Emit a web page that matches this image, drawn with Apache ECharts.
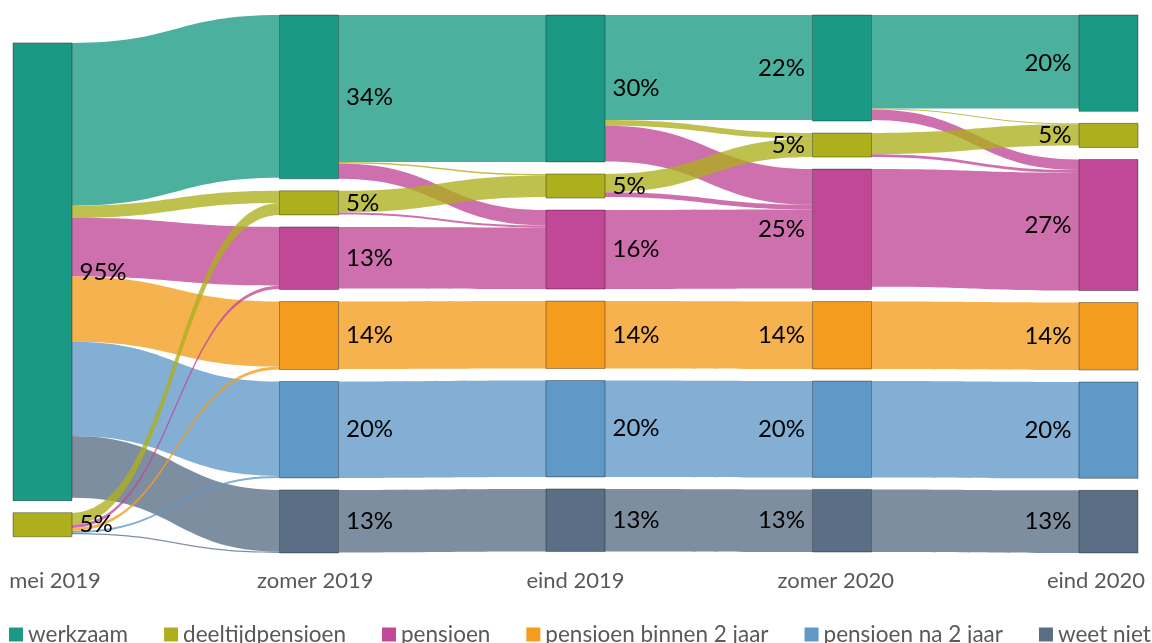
<!DOCTYPE html>
<html>
<head>
<meta charset="utf-8">
<script src="https://cdn.jsdelivr.net/npm/echarts@6/dist/echarts.min.js"></script>
<style>
html,body{margin:0;padding:0;background:#fff;}
#chart{width:1152px;height:643px;}
</style>
</head>
<body>
<div id="chart"></div>
<script>
// ---- data ----
const columns = ['mei 2019', 'zomer 2019', 'eind 2019', 'zomer 2020', 'eind 2020'];
const statuses = ['werkzaam', 'deeltijdpensioen', 'pensioen', 'pensioen binnen 2 jaar', 'pensioen na 2 jaar', 'weet niet'];
const statusColors = ['#1a9a84', '#adb01c', '#c04896', '#f39c1e', '#5f99c7', '#5a6e86'];

// node shares (%) per column, in order of statuses (null = not present)
const shareMei2019   = [95, 5, null, null, null, null];
const shareZomer2019 = [34, 5, 13, 14, 20, 13];
const shareEind2019  = [30, 5, 16, 14, 20, 13];
const shareZomer2020 = [22, 5, 25, 14, 20, 13];
const shareEind2020  = [20, 5, 27, 14, 20, 13];

// flows [from status, to status, % of respondents]
const flowsMei2019ToZomer2019 = [
  ['werkzaam', 'werkzaam', 33.8],
  ['werkzaam', 'deeltijdpensioen', 2.5],
  ['werkzaam', 'pensioen', 12.2],
  ['werkzaam', 'pensioen binnen 2 jaar', 13.5],
  ['werkzaam', 'pensioen na 2 jaar', 19.6],
  ['werkzaam', 'weet niet', 12.8],
  ['deeltijdpensioen', 'deeltijdpensioen', 2.5],
  ['deeltijdpensioen', 'pensioen', 0.7],
  ['deeltijdpensioen', 'pensioen binnen 2 jaar', 0.6],
  ['deeltijdpensioen', 'pensioen na 2 jaar', 0.4],
  ['deeltijdpensioen', 'weet niet', 0.3]
];
const flowsZomer2019ToEind2019 = [
  ['werkzaam', 'werkzaam', 30.5],
  ['werkzaam', 'deeltijdpensioen', 0.3],
  ['werkzaam', 'pensioen', 3.2],
  ['deeltijdpensioen', 'deeltijdpensioen', 4.5],
  ['deeltijdpensioen', 'pensioen', 0.4],
  ['pensioen', 'pensioen', 12.8],
  ['pensioen binnen 2 jaar', 'pensioen binnen 2 jaar', 14],
  ['pensioen na 2 jaar', 'pensioen na 2 jaar', 20],
  ['weet niet', 'weet niet', 13]
];
const flowsEind2019ToZomer2020 = [
  ['werkzaam', 'werkzaam', 21.8],
  ['werkzaam', 'deeltijdpensioen', 1.2],
  ['werkzaam', 'pensioen', 7.4],
  ['deeltijdpensioen', 'deeltijdpensioen', 3.8],
  ['deeltijdpensioen', 'pensioen', 1.0],
  ['pensioen', 'pensioen', 16.4],
  ['pensioen binnen 2 jaar', 'pensioen binnen 2 jaar', 14],
  ['pensioen na 2 jaar', 'pensioen na 2 jaar', 20],
  ['weet niet', 'weet niet', 13]
];
const flowsZomer2020ToEind2020 = [
  ['werkzaam', 'werkzaam', 19.4],
  ['werkzaam', 'deeltijdpensioen', 0.2],
  ['werkzaam', 'pensioen', 2.2],
  ['deeltijdpensioen', 'deeltijdpensioen', 4.4],
  ['deeltijdpensioen', 'pensioen', 0.6],
  ['pensioen', 'pensioen', 24.4],
  ['pensioen binnen 2 jaar', 'pensioen binnen 2 jaar', 14],
  ['pensioen na 2 jaar', 'pensioen na 2 jaar', 20],
  ['weet niet', 'weet niet', 13]
];

// ---- build options ----
const shares = [shareMei2019, shareZomer2019, shareEind2019, shareZomer2020, shareEind2020];
const flowSets = [flowsMei2019ToZomer2019, flowsZomer2019ToEind2019, flowsEind2019ToZomer2020, flowsZomer2020ToEind2020];
const nodeId = (status, col) => status + ' | ' + columns[col];

// layout-only: an invisible, unlabeled spacer pushes the first column down (as in the original layout)
const FIRST_COLUMN_TOP_SPACER = 3.3;

const nodes = [{
  name: '__spacer__',
  value: FIRST_COLUMN_TOP_SPACER,
  depth: 0,
  itemStyle: { color: 'rgba(0,0,0,0)', borderWidth: 0 },
  label: { show: false },
  silent: true
}];
shares.forEach((arr, col) => {
  arr.forEach((v, si) => {
    if (v == null) return;
    nodes.push({
      name: nodeId(statuses[si], col),
      value: v,
      depth: col,
      itemStyle: { color: statusColors[si] },
      label: { position: col <= 2 ? 'right' : 'left' }
    });
  });
});
const links = [];
flowSets.forEach((set, col) => {
  set.forEach(([a, b, v]) => {
    links.push({ source: nodeId(a, col), target: nodeId(b, col + 1), value: v });
  });
});

const FONT = 'Lato';
const chart = echarts.init(document.getElementById('chart'), null, { renderer: 'canvas' });
chart.setOption({
  animation: false,
  backgroundColor: '#ffffff',
  textStyle: { fontFamily: FONT },
  grid: { left: 55, right: 56, top: 15, bottom: 78, show: false },
  xAxis: {
    type: 'category',
    data: columns,
    boundaryGap: false,
    axisLine: { show: false },
    axisTick: { show: false },
    splitLine: { show: false },
    axisLabel: { color: '#595959', fontSize: 22, fontFamily: FONT, margin: 5, interval: 0 }
  },
  yAxis: { type: 'value', show: false },
  legend: {
    left: 4,
    top: 618,
    width: 1300,
    itemWidth: 14,
    itemHeight: 14,
    itemGap: 36,
    icon: 'rect',
    selectedMode: false,
    textStyle: { color: '#595959', fontSize: 22.5, fontFamily: FONT },
    data: statuses
  },
  series: [
    {
      type: 'sankey',
      left: 13,
      right: 14,
      top: 15,
      bottom: 90,
      nodeWidth: 59,
      nodeGap: 12,
      layoutIterations: 0,
      draggable: false,
      emphasis: { disabled: true },
      data: nodes,
      links: links,
      itemStyle: { borderColor: 'rgba(0,0,0,0.35)', borderWidth: 1 },
      lineStyle: { color: 'target', opacity: 0.78, curveness: 0.5 },
      label: {
        show: true,
        color: '#000',
        fontSize: 24,
        fontFamily: FONT,
        distance: 7,
        formatter: p => Math.round(p.value) + '%'
      }
    }
  ].concat(statuses.map((s, i) => ({
    type: 'line',
    name: s,
    data: [],
    itemStyle: { color: statusColors[i] },
    lineStyle: { color: statusColors[i] }
  })))
});
</script>
</body>
</html>
